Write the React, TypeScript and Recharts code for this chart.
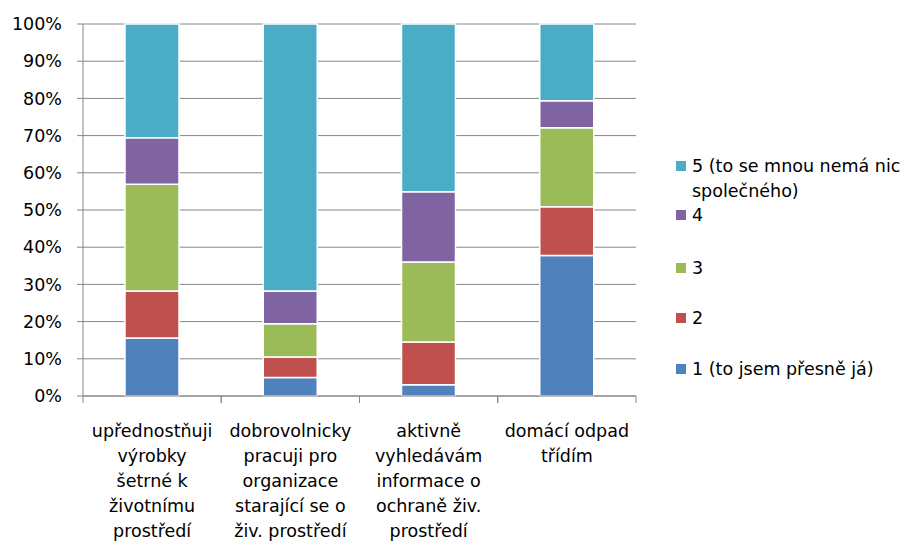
import { Bar, BarChart, CartesianGrid, XAxis, YAxis } from "recharts";

const categoryLines: string[][] = [
  ["upřednostňuji", "výrobky", "šetrné k", "životnímu", "prostředí"],
  ["dobrovolnicky", "pracuji pro", "organizace", "starající se o", "živ. prostředí"],
  ["aktivně", "vyhledávám", "informace o", "ochraně živ.", "prostředí"],
  ["domácí odpad", "třídím"],
];

const rating1 = [15.6, 5.0, 3.0, 37.8];
const rating2 = [12.6, 5.5, 11.5, 13.1];
const rating3 = [28.7, 8.9, 21.5, 21.2];
const rating4 = [12.5, 8.8, 18.9, 7.3];
const rating5 = [30.6, 71.8, 45.1, 20.6];

const yTicks = [0, 10, 20, 30, 40, 50, 60, 70, 80, 90, 100];

const series = [
  { key: "r1", name: "1 (to jsem přesně já)", color: "#4F81BD", values: rating1 },
  { key: "r2", name: "2", color: "#C0504D", values: rating2 },
  { key: "r3", name: "3", color: "#9BBB59", values: rating3 },
  { key: "r4", name: "4", color: "#8064A2", values: rating4 },
  { key: "r5", name: "5 (to se mnou nemá nic společného)", color: "#4BACC6", values: rating5 },
];

const data = categoryLines.map((lines, i) => {
  const row: Record<string, string | number> = { name: lines.join(" ") };
  series.forEach((s) => {
    row[s.key] = s.values[i];
  });
  return row;
});

const FONT = "'DejaVu Sans', sans-serif";
const AXIS_COLOR = "#868686";
const PLOT_WIDTH = 553;

function CategoryTick(props: any) {
  const { x, y, index } = props;
  const lines = categoryLines[index] ?? [];
  const half = PLOT_WIDTH / categoryLines.length / 2;
  return (
    <g>
      <line x1={x - half} x2={x - half} y1={y} y2={y + 7} stroke={AXIS_COLOR} />
      <line x1={x + half} x2={x + half} y1={y} y2={y + 7} stroke={AXIS_COLOR} />
      <text x={x} y={y + 41} textAnchor="middle" fontSize={17.5} fontFamily={FONT} fill="#000">
        {lines.map((l, i) => (
          <tspan key={i} x={x} dy={i === 0 ? 0 : 25}>
            {l}
          </tspan>
        ))}
      </text>
    </g>
  );
}

// spacing between legend entries, top to bottom
const legendGaps = [0, 0, 28, 26, 26];

function LegendBox() {
  const items = [...series].reverse();
  return (
    <div
      style={{
        position: "absolute",
        left: 676,
        top: 154,
        fontFamily: FONT,
        fontSize: 17.5,
        color: "#000",
        lineHeight: "24.5px",
      }}
    >
      {items.map((s, i) => (
        <div key={s.key} style={{ display: "flex", alignItems: "flex-start", marginTop: legendGaps[i] }}>
          <span
            style={{
              width: 10,
              height: 10,
              background: s.color,
              marginTop: 7,
              marginRight: 6,
              flex: "none",
            }}
          />
          <span style={{ width: 222 }}>{s.name}</span>
        </div>
      ))}
    </div>
  );
}

export default function App() {
  return (
    <div style={{ position: "absolute", left: 0, top: 0, width: 916, height: 542, background: "#fff" }}>
      <BarChart
        width={916}
        height={542}
        data={data}
        margin={{ top: 24, right: 280, bottom: 0, left: 0 }}
        barSize={54}
      >
        <CartesianGrid vertical={false} stroke={AXIS_COLOR} strokeWidth={1} />
        <XAxis
          dataKey="name"
          height={146}
          stroke={AXIS_COLOR}
          tickLine={false}
          tickSize={0}
          tickMargin={0}
          tick={<CategoryTick />}
          interval={0}
        />
        <YAxis
          width={83}
          domain={[0, 100]}
          ticks={yTicks}
          tickFormatter={(v: number) => `${v}%`}
          stroke={AXIS_COLOR}
          tickSize={6}
          tickMargin={15}
          tick={{ fill: "#000", fontSize: 17.5, fontFamily: FONT }}
          interval={0}
        />
        {series.map((s) => (
          <Bar
            key={s.key}
            dataKey={s.key}
            name={s.name}
            stackId="a"
            fill={s.color}
            stroke="#fff"
            strokeWidth={1.5}
            isAnimationActive={false}
          />
        ))}
      </BarChart>
      <LegendBox />
    </div>
  );
}
